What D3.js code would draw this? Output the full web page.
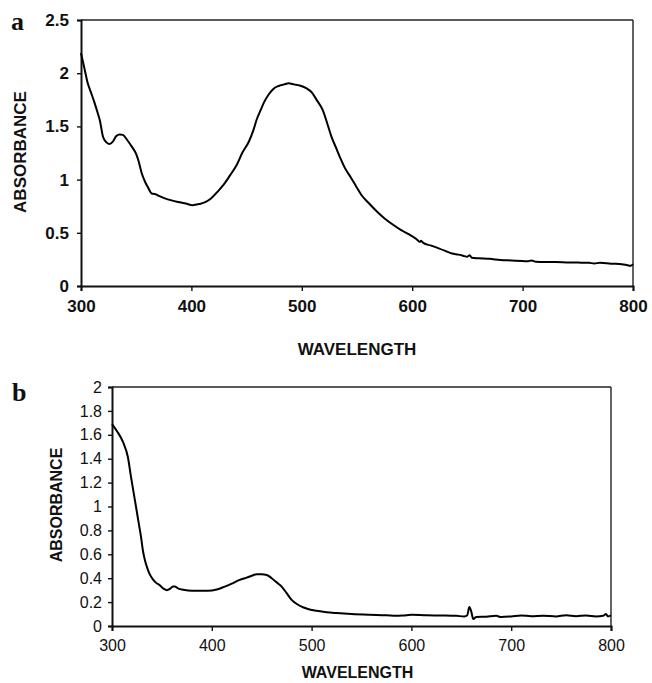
<!DOCTYPE html>
<html>
<head>
<meta charset="utf-8">
<script src="https://cdn.jsdelivr.net/npm/d3@7"></script>
<style>
  html, body { margin: 0; padding: 0; background: #fff; }
  svg { display: block; }
</style>
</head>
<body>
<svg id="chart" width="652" height="683"></svg>
<script>
// ---- Data ----
const wavelengthA = [300,303,306,309,312,315,317,320,323,326,329,332,335,338,342,346,350,352,355,358,361,364,367,370,376,382,388,395,401,407,413,418,424,429,435,441,446,452,456,459,463,466,470,474,479,484,488,493,498,504,509,514,519,523,527,531,535,539,544,549,554,561,568,575,583,590,598,604,607,608,610,617,624,630,636,642,646,650,652,654,660,670,680,690,700,705,708,712,720,730,740,750,760,765,770,780,790,795,798,800];
const absorbanceA = [2.19,2.05,1.91,1.82,1.73,1.63,1.56,1.40,1.35,1.335,1.36,1.41,1.425,1.42,1.37,1.31,1.24,1.18,1.06,0.98,0.92,0.87,0.865,0.85,0.824,0.805,0.79,0.775,0.76,0.77,0.79,0.825,0.89,0.95,1.04,1.137,1.25,1.356,1.46,1.56,1.66,1.73,1.80,1.85,1.88,1.895,1.905,1.895,1.885,1.86,1.82,1.74,1.654,1.53,1.40,1.30,1.20,1.11,1.027,0.94,0.855,0.775,0.70,0.635,0.573,0.525,0.48,0.44,0.415,0.425,0.405,0.38,0.354,0.33,0.305,0.295,0.285,0.275,0.29,0.265,0.26,0.255,0.245,0.24,0.235,0.232,0.24,0.228,0.225,0.225,0.222,0.22,0.218,0.212,0.218,0.21,0.205,0.195,0.19,0.205];

const wavelengthB = [300,305,311,316,319,322,324,327,329,331,333,336,338,341,344,348,352,355,358,361,363,366,370,376,385,396,405,413,420,428,435,440,445,450,455,460,465,470,475,480,486,492,498,505,515,525,540,558,575,585,592,600,615,630,645,653,656,658,660,662,665,675,685,690,700,710,720,732,745,755,765,775,785,792,795,797,800];
const absorbanceB = [1.69,1.63,1.54,1.41,1.25,1.10,1.00,0.85,0.75,0.63,0.55,0.47,0.43,0.39,0.363,0.34,0.31,0.30,0.31,0.33,0.33,0.315,0.305,0.297,0.294,0.294,0.305,0.33,0.355,0.386,0.405,0.42,0.433,0.433,0.427,0.40,0.365,0.33,0.275,0.219,0.18,0.155,0.138,0.127,0.115,0.108,0.10,0.094,0.09,0.085,0.088,0.094,0.09,0.088,0.085,0.08,0.09,0.158,0.12,0.058,0.075,0.078,0.085,0.075,0.08,0.088,0.082,0.086,0.08,0.09,0.082,0.088,0.08,0.085,0.10,0.08,0.09];

const xTicks = [300,400,500,600,700,800];
const yTicksA = [0,0.5,1,1.5,2,2.5];
const yTicksB = [0,0.2,0.4,0.6,0.8,1,1.2,1.4,1.6,1.8,2];
const xTitle = "WAVELENGTH";
const yTitle = "ABSORBANCE";

// ---- Drawing ----
const svg = d3.select("#chart");
const SANS = '"Liberation Sans", Arial, sans-serif';
const SERIF = '"Liberation Serif", "Times New Roman", serif';

function panel(cfg) {
  const x = d3.scaleLinear().domain([300, 800]).range([cfg.left, cfg.right]);
  const y = d3.scaleLinear().domain([0, cfg.ymax]).range([cfg.bottom, cfg.top]);
  const g = svg.append("g");

  // frame (top + right)
  g.append("line").attr("x1", cfg.left).attr("x2", cfg.right).attr("y1", cfg.top).attr("y2", cfg.top)
    .attr("stroke", "#222").attr("stroke-width", 1.4);
  g.append("line").attr("x1", cfg.right).attr("x2", cfg.right).attr("y1", cfg.top).attr("y2", cfg.bottom)
    .attr("stroke", "#222").attr("stroke-width", 1.4);

  const xAxis = g.append("g").attr("transform", `translate(0,${cfg.bottom})`)
    .call(d3.axisBottom(x).tickValues(xTicks).tickSize(5).tickPadding(cfg.xPad).tickFormat(d3.format("d")));
  const yAxis = g.append("g").attr("transform", `translate(${cfg.left},0)`)
    .call(d3.axisLeft(y).tickValues(cfg.yTicks).tickSize(4).tickPadding(cfg.yPad).tickFormat(d => String(+d.toFixed(1))));

  [xAxis, yAxis].forEach(a => {
    a.attr("font-family", SANS);
    a.select(".domain").attr("stroke", "#111").attr("stroke-width", 2);
    a.selectAll(".tick line").attr("stroke", "#111").attr("stroke-width", 1.4);
    a.selectAll(".tick text").style("font-size", cfg.tickFont + "px").style("font-weight", cfg.tickWeight)
      .style("font-family", SANS).attr("fill", "#111");
  });

  const line = d3.line().x((d, i) => x(cfg.xs[i])).y(d => y(d)).curve(d3.curveMonotoneX);
  g.append("path").datum(cfg.ys).attr("d", line).attr("fill", "none")
    .attr("stroke", "#000").attr("stroke-width", 2).attr("stroke-linejoin", "round");

  g.append("text").attr("x", (cfg.left + cfg.right) / 2 + cfg.xTitleDx).attr("y", cfg.xTitleY)
    .attr("text-anchor", "middle").style("font-family", SANS).style("font-size", cfg.titleFont + "px")
    .style("font-weight", "bold").attr("fill", "#111").text(xTitle);
  g.append("text").attr("transform", `translate(${cfg.yTitleX},${cfg.yTitleCy}) rotate(-90)`)
    .attr("text-anchor", "middle").style("font-family", SANS).style("font-size", cfg.titleFont + "px")
    .style("font-weight", "bold").attr("fill", "#111").text(yTitle);

  g.append("text").attr("x", cfg.labelX).attr("y", cfg.labelY)
    .style("font-family", SERIF).style("font-size", "26px").style("font-weight", "bold")
    .attr("fill", "#111").text(cfg.label);
}

panel({
  left: 81, right: 633, top: 20, bottom: 286, ymax: 2.5, yTicks: yTicksA,
  xs: wavelengthA, ys: absorbanceA, tickFont: 17, tickWeight: "bold", titleFont: 17, xPad: 9, yPad: 8,
  xTitleDx: 0, xTitleY: 355, yTitleX: 26, yTitleCy: 152, label: "a", labelX: 11, labelY: 30
});

panel({
  left: 112, right: 611, top: 387, bottom: 626, ymax: 2, yTicks: yTicksB,
  xs: wavelengthB, ys: absorbanceB, tickFont: 16, tickWeight: "normal", titleFont: 16, xPad: 9, yPad: 6,
  xTitleDx: -4, xTitleY: 678, yTitleX: 62, yTitleCy: 505, label: "b", labelX: 12, labelY: 401
});
</script>
</body>
</html>
